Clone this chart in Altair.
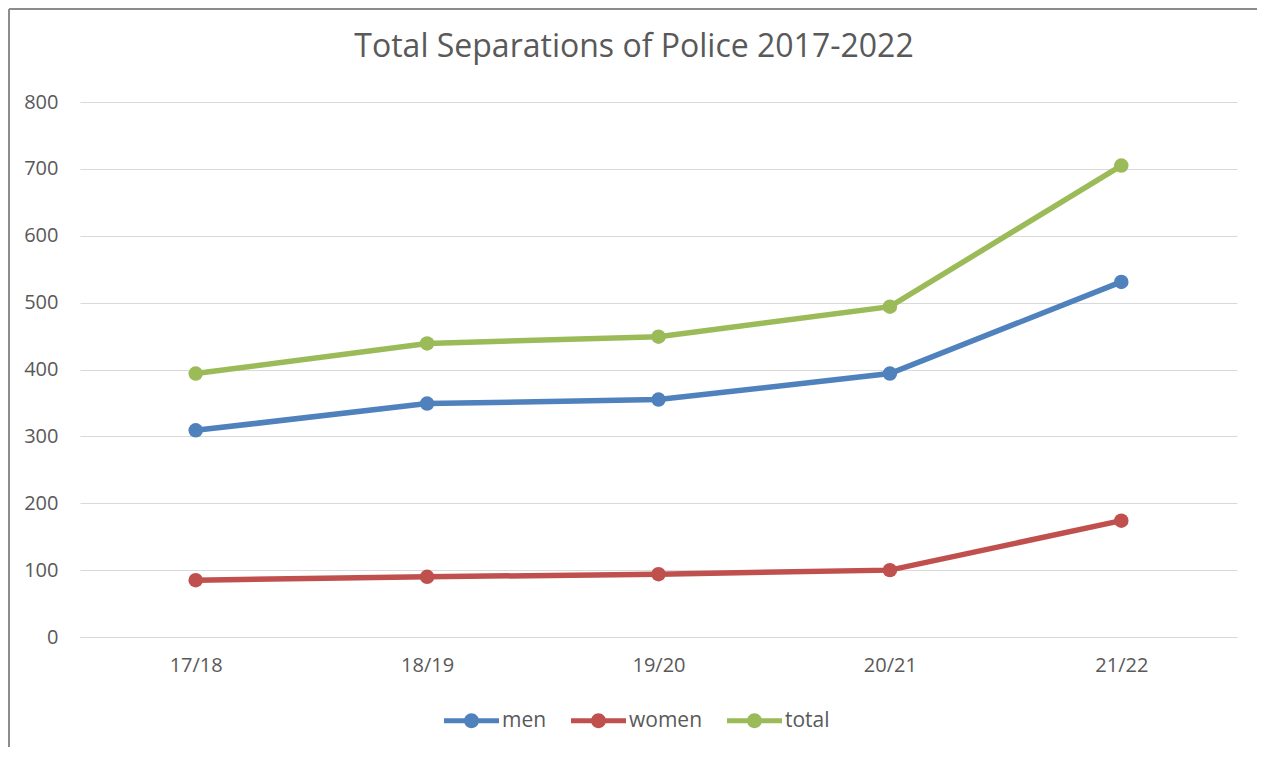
import altair as alt
import pandas as pd

categories = ["17/18", "18/19", "19/20", "20/21", "21/22"]
men = [309, 349, 355, 394, 531]
women = [85, 90, 94, 100, 174]
total = [394, 439, 449, 494, 705]
series_names = ["men", "women", "total"]
series_colors = ["#4F81BD", "#C0504D", "#9BBB59"]
title_text = "Total Separations of Police 2017-2022"

rows = []
for name, vals in zip(series_names, [men, women, total]):
    for c, v in zip(categories, vals):
        rows.append({"year": c, "series": name, "value": v})
df = pd.DataFrame(rows)

FONT = "Open Sans"
TXT = "#595959"
GRID = "#D9D9D9"

x_enc = alt.X("year:N", sort=categories,
              scale=alt.Scale(type="point", padding=0.5),
              axis=alt.Axis(title=None, labelAngle=0, ticks=False, tickSize=0,
                            domain=True, domainColor=GRID, domainWidth=1,
                            labelPadding=18, grid=False))
y_enc = alt.Y("value:Q", scale=alt.Scale(domain=[0, 800], nice=False),
              axis=alt.Axis(title=None, values=list(range(0, 801, 100)),
                            ticks=False, tickSize=0, domain=False,
                            labelPadding=22, grid=True, gridColor=GRID,
                            gridWidth=1))

legend_path = ("M-1,-0.09 H1 V0.09 H-1 Z "
               "M0.27,0 A0.27,0.27 0 1,1 -0.27,0 A0.27,0.27 0 1,1 0.27,0 Z")
legend = alt.Legend(title=None, orient="none", direction="horizontal",
                    legendX=364, legendY=591,
                    symbolType=legend_path, symbolSize=3025,
                    symbolStrokeWidth=0, symbolOpacity=1,
                    labelFont=FONT, labelFontSize=21,
                    labelColor=TXT, labelOffset=3,
                    columnPadding=24)
color_enc = alt.Color("series:N", sort=series_names,
                      scale=alt.Scale(domain=series_names, range=series_colors),
                      legend=legend)

lines = alt.Chart(df).mark_line(strokeWidth=5.5).encode(
    x=x_enc, y=y_enc, color=color_enc,
)
points = alt.Chart(df).mark_point(filled=True, size=210, opacity=1).encode(
    x=x_enc, y=y_enc, color=color_enc,
)

one = pd.DataFrame({"k": [0]})
border = alt.Chart(one).mark_rule(color="#8C8C8C", strokeWidth=2).encode(
    x=alt.value(-71), y=alt.value(-93), y2=alt.value(650)
)
border_top = alt.Chart(one).mark_rule(color="#8C8C8C", strokeWidth=2).encode(
    x=alt.value(-71), x2=alt.value(1185), y=alt.value(-93)
)
title = alt.Chart(one).mark_text(
    text=title_text, font=FONT, fontSize=32, color=TXT,
    align="center", baseline="middle"
).encode(x=alt.value(554), y=alt.value(-55))

chart = alt.layer(lines, points, border, border_top, title).properties(
    width=1157, height=535,
    autosize=alt.AutoSizeParams(type="none"),
    padding={"left": 72, "top": 94, "right": 20, "bottom": 110},
).configure_view(stroke=None).configure_axis(
    labelFont=FONT, labelFontSize=20, labelColor=TXT
)

chart.save("out.html", embed_options={"renderer": "svg", "actions": False})
